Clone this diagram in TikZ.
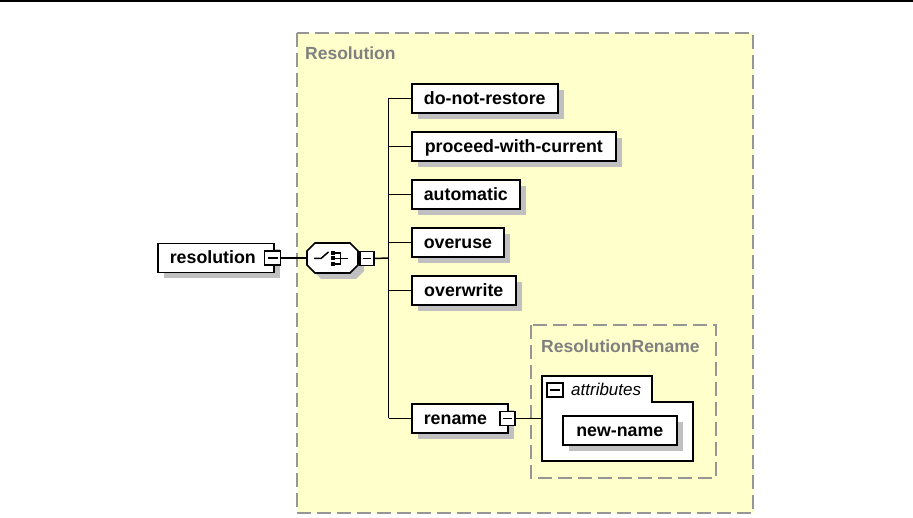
\documentclass[tikz,border=0pt]{standalone}
\usepackage{fontspec}
\setmainfont{Liberation Sans}
\usetikzlibrary{shadows,calc}
\definecolor{yel}{RGB}{255,255,204}
\definecolor{dashc}{RGB}{150,150,150}
\definecolor{shadowc}{RGB}{192,192,192}
\definecolor{lblc}{RGB}{128,128,128}
\tikzset{
 elem/.style={draw=black, line width=1.6pt, fill=white, anchor=west, minimum height=29pt,
   inner xsep=12pt, inner ysep=0pt, text height=12pt, text depth=0pt,
   font=\fontsize{17.8}{20}\selectfont\bfseries,
   drop shadow={shadow xshift=6pt,shadow yshift=-6pt,fill=shadowc,draw=none,opacity=1}},
 elemc/.style={elem, align=center},
 eleml/.style={elem, align=left},
 minusbox/.style={draw=black, line width=1.3pt, fill=white, minimum width=15pt, minimum height=14pt, inner sep=0pt,
   path picture={\draw[line width=1.3pt] ([xshift=3pt]path picture bounding box.west) -- ([xshift=-3pt]path picture bounding box.east);}},
 conn/.style={line width=1.5pt, draw=black},
 group/.style={draw=dashc, line width=1.4pt, dash pattern=on 14pt off 6pt},
 grplabel/.style={anchor=base west, text=lblc, font=\fontsize{17.5}{20}\selectfont\bfseries, inner sep=0pt},
}
\begin{document}
\begin{tikzpicture}[x=1pt,y=-1pt]
\useasboundingbox (0,0) rectangle (913,518);
% top rule
\fill[black] (0,0) rectangle (913,2.2);
% outer group
\filldraw[group, fill=yel] (297,33) rectangle (753,513);
\node[grplabel] (lblres) at (305,60) {Resolution};
% inner group
\draw[group] (531,325) rectangle (716,478);
\node[grplabel] (lblrr) at (541,352.5) {ResolutionRename};

% resolution element
\node[eleml, text width=92pt] (res) at (157,258) {resolution};
\node[minusbox, minimum width=16pt] (resm) at (272.5,258) {};

% choice compositor
\fill[shadowc] (321,249)--(356,249)--(364,257)--(364,271)--(356,279)--(321,279)--(313,271)--(313,257)--cycle;
\filldraw[fill=white, draw=black, line width=1.6pt] (315,243)--(350,243)--(358,251)--(358,265)--(350,273)--(315,273)--(307,265)--(307,251)--cycle;
\node[minimum width=51pt, minimum height=30pt, inner sep=0pt] (ch) at (332.5,258) {};
\draw[line width=1.5pt] (314,258.5)--(321,258.5)--(328.5,252);
\fill (331,251) rectangle (335,255);
\fill (331,256.5) rectangle (335,260.5);
\fill (331,262) rectangle (335,266);
\draw[line width=1.5pt] (335,253)--(340.5,253)--(340.5,264)--(335,264);
\draw[line width=1.5pt] (335,258.5)--(348,258.5);
\node[minusbox, minimum width=14pt] (chm) at (367,258.5) {};

% children
\coordinate (spine) at (388.5,258);
\node[elemc, minimum width=146pt] (c1) at (411,98.5) {do-not-restore};
\node[elemc, minimum width=204pt] (c2) at (411,146.5) {proceed-with-current};
\node[elemc, minimum width=108pt] (c3) at (411,194.5) {automatic};
\node[elemc, minimum width=92pt] (c4) at (411,242.5) {overuse};
\node[elemc, minimum width=104pt] (c5) at (411,290.5) {overwrite};
\node[eleml, text width=72pt] (c6) at (411,418.5) {rename};
\node[minusbox] (c6m) at (507.5,418.5) {};

% connectors
\draw[conn] (resm.east) -- (ch.west);
\draw[conn] (chm.east) -- (spine);
\draw[conn] (spine |- c1.west) -- (spine |- c6.west);
\foreach \c in {c1,c2,c3,c4,c5,c6} { \draw[conn] (spine |- \c.west) -- (\c.west); }

% attributes
\filldraw[fill=white, draw=black, line width=1.6pt] (542,376)--(652,376)--(652,402)--(693,402)--(693,461)--(542,461)--cycle;
\coordinate (attr) at (542,418.5);
\node[minusbox, minimum width=16pt] (attm) at (555,390) {};
\node[anchor=base west, inner sep=0pt, font=\fontsize{17}{20}\selectfont\itshape] (attl) at (571,395.5) {attributes};
\node[elemc, minimum width=114pt] (nn) at (562,430.5) {new-name};
\draw[conn] (c6m.east) -- (attr);
\end{tikzpicture}
\end{document}
